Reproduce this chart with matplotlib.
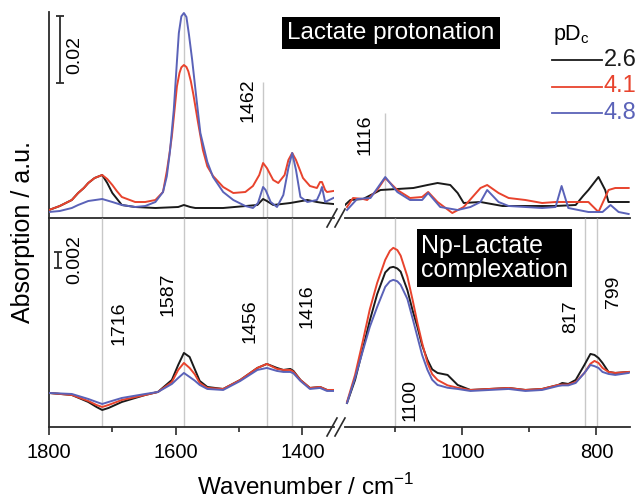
import numpy as np
import matplotlib.pyplot as plt
from matplotlib.lines import Line2D
from matplotlib.ticker import MultipleLocator

plt.rcParams['font.family'] = ['Liberation Sans', 'DejaVu Sans']

# absorbance values in milli-absorbance units (mA)
# ---- top panel: lactate protonation, 1800-1350 cm-1 ----
top_l_black_wn = [1800, 1783, 1764, 1754, 1745, 1738, 1728, 1716, 1708, 1700, 1685, 1664, 1632, 1596, 1587,
                  1577, 1569, 1525, 1471, 1462, 1456, 1446, 1419, 1392, 1377, 1367, 1351]
top_l_black = [2.4, 3.6, 5.4, 7.5, 9.0, 10.5, 12.0, 12.9, 10.5, 7.5, 3.9, 3.3, 3.0, 3.3, 3.9,
               3.3, 3.0, 3.0, 3.9, 5.7, 5.1, 3.9, 4.5, 5.4, 4.8, 4.5, 4.2]
top_l_red_wn = [1800, 1783, 1764, 1754, 1745, 1738, 1728, 1716, 1708, 1700, 1693, 1685, 1664, 1648, 1632, 1620,
                1614, 1610, 1606, 1602, 1598, 1594, 1591, 1587, 1583, 1580, 1576, 1572, 1565, 1557, 1550, 1541,
                1525, 1509, 1490, 1478, 1468, 1462, 1456, 1446, 1438, 1428, 1422, 1416, 1410, 1399, 1388, 1377,
                1372, 1369, 1364, 1361, 1351]
top_l_red = [2.4, 3.6, 5.4, 7.5, 9.0, 10.5, 12.0, 12.9, 11.7, 9.9, 8.1, 6.3, 4.8, 4.8, 5.4, 7.8,
             14.0, 19.0, 24.5, 32.0, 39.5, 43.5, 45.2, 45.9, 45.3, 44.0, 41.0, 37.0, 29.0, 20.4, 15.5, 12.6,
             9.3, 7.5, 7.8, 9.6, 12.9, 16.5, 15.0, 11.4, 10.5, 12.9, 17.4, 19.5, 17.4, 12.0, 9.6, 9.0,
             10.8, 10.8, 8.4, 7.8, 8.1]
top_l_blue_wn = [1800, 1783, 1764, 1754, 1738, 1716, 1700, 1685, 1664, 1648, 1632, 1620, 1614, 1609, 1603,
                 1598, 1595, 1591, 1587, 1583, 1579, 1574, 1567, 1561, 1550, 1541, 1525, 1509, 1490, 1478, 1470,
                 1466, 1462, 1458, 1450, 1440, 1430, 1422, 1416, 1410, 1403, 1392, 1377, 1372, 1369, 1366, 1364,
                 1351]
top_l_blue = [1.8, 2.1, 3.0, 3.9, 5.1, 5.7, 4.8, 3.9, 3.3, 3.6, 4.8, 7.8, 12.5, 20.0, 32.4,
              47.0, 55.5, 60.5, 61.5, 60.3, 55.0, 47.5, 35.5, 25.5, 16.8, 12.3, 7.8, 5.4, 3.6, 3.0, 4.5,
              6.9, 9.3, 8.4, 4.8, 3.3, 6.9, 15.0, 19.5, 14.4, 6.3, 4.8, 5.4, 7.5, 9.3, 6.6, 4.8,
              6.0]

# ---- top panel: 1175-750 cm-1 ----
top_r_black_wn = [1175, 1167, 1148, 1122, 1097, 1073, 1052, 1037, 1018, 1007, 998, 973, 940, 861, 831, 820,
                  812, 797, 787, 782, 752]
top_r_black = [3.9, 5.4, 5.7, 8.4, 8.7, 9.0, 9.9, 10.5, 9.9, 7.5, 4.5, 4.8, 3.6, 3.6, 3.9, 6.6,
               8.4, 12.3, 8.4, 4.8, 4.8]
top_r_red_wn = [1172, 1163, 1148, 1142, 1127, 1115, 1097, 1078, 1060, 1051, 1037, 1015, 998, 973, 963, 946,
                931, 906, 881, 861, 831, 812, 797, 782, 772, 752]
top_r_red = [3.3, 6.0, 5.7, 5.4, 8.4, 12.0, 8.4, 6.0, 6.3, 7.8, 4.8, 1.5, 3.3, 9.0, 9.9, 7.5,
             6.0, 5.4, 4.5, 4.8, 4.8, 4.8, 1.8, 8.4, 9.0, 9.0]
top_r_blue_wn = [1172, 1157, 1137, 1115, 1097, 1078, 1060, 1051, 1033, 1007, 988, 973, 963, 946, 931, 881,
                 861, 852, 842, 812, 791, 779, 767, 752]
top_r_blue = [2.4, 5.7, 6.0, 12.3, 7.8, 5.4, 5.4, 7.5, 3.3, 2.4, 3.3, 4.8, 8.4, 4.8, 3.6, 3.0,
              3.3, 9.6, 3.0, 1.8, 1.8, 3.9, 1.8, 1.2]

# ---- bottom panel: Np-lactate complexation, 1800-1350 cm-1 ----
bot_l_wn = [1800, 1764, 1738, 1725, 1716, 1706, 1685, 1648, 1628, 1606, 1596, 1587, 1578, 1570, 1562,
            1550, 1525, 1498, 1471, 1456, 1440, 1430, 1419, 1414, 1403, 1388, 1372, 1361, 1351]
bot_l_black = [4.25, 4.0, 3.125, 2.5, 2.125, 2.375, 3.125, 4.0, 4.375, 5.875, 7.75, 9.25, 8.75, 7.25, 5.75,
               5.0, 4.75, 5.875, 7.375, 7.875, 7.375, 7.125, 7.25, 7.0, 5.875, 4.875, 5.0, 4.625, 4.625]
bot_l_red = [4.25, 4.0, 3.25, 2.75, 2.5, 2.75, 3.375, 4.0, 4.375, 5.625, 7.125, 8.0, 7.375, 6.6, 5.5,
             4.875, 4.75, 5.875, 7.375, 7.875, 7.25, 7.125, 7.125, 6.9, 5.875, 4.875, 5.0, 4.625, 4.625]
bot_l_blue = [4.25, 4.125, 3.5, 3.125, 2.875, 3.125, 3.625, 4.125, 4.375, 5.375, 6.125, 6.75, 6.25, 5.8, 5.25,
              4.75, 4.625, 5.75, 7.125, 7.375, 7.0, 6.875, 6.875, 6.7, 5.75, 4.75, 4.875, 4.5, 4.5]

# ---- bottom panel: 1175-750 cm-1 ----
bot_r_wn = [1172, 1160, 1148, 1138, 1127, 1115, 1108, 1103, 1097, 1092, 1082, 1074, 1067, 1060, 1052, 1045,
            1037, 1022, 1007, 988, 931, 906, 881, 857, 851, 842, 831, 818, 809, 803, 797, 791, 782, 772, 752]
bot_r_black = [3.0, 5.875, 9.875, 13.3, 16.6, 19.3, 19.9, 20.0, 19.8, 19.4, 17.1, 14.5, 12.5, 10.2, 8.375,
               7.2, 6.75, 6.5, 5.25, 4.625, 4.875, 4.625, 4.75, 5.25, 5.5, 5.375, 5.875, 7.75, 9.125, 9.0,
               8.625, 8.0, 6.875, 6.75, 6.875]
bot_r_red = [3.125, 6.5, 10.875, 14.7, 18.0, 20.875, 22.0, 22.375, 22.1, 21.4, 18.8, 15.8, 13.0, 10.5, 8.0,
             6.6, 5.875, 5.2, 4.9, 4.625, 4.875, 4.625, 4.75, 5.25, 5.3, 5.3, 5.625, 6.75, 7.9, 8.25, 8.0,
             7.375, 6.875, 6.75, 6.875]
bot_r_blue = [3.0, 6.125, 9.625, 12.5, 15.0, 17.5, 18.2, 18.375, 18.2, 17.75, 16.0, 13.5, 11.25, 9.0, 7.125,
              5.9, 5.25, 4.9, 4.75, 4.5, 4.75, 4.5, 4.625, 5.125, 5.2, 5.2, 5.5, 6.75, 7.75, 7.6, 7.375,
              6.875, 6.625, 6.5, 6.75]

peaks_top_marks = [1716, 1587, 1456, 1416]
peaks_bottom = [1716, 1587, 1456, 1416, 1100, 817, 799]
pdc_labels = ['2.6', '4.1', '4.8']
colors = ['#1a1a1a', '#e8432d', '#5a62b8']

mA = lambda v: np.asarray(v) / 1000.0

W, H = 642, 501
fig = plt.figure(figsize=(W / 100, H / 100), dpi=100)


def px_box(x0, y0, x1, y1):
    return [x0 / W, 1 - y1 / H, (x1 - x0) / W, (y1 - y0) / H]


ax_tl = fig.add_axes(px_box(49, 12, 334, 218))
ax_tr = fig.add_axes(px_box(345, 12, 630, 218))
ax_bl = fig.add_axes(px_box(49, 218, 334, 427))
ax_br = fig.add_axes(px_box(345, 218, 630, 427))

for ax in (ax_tl, ax_bl):
    ax.set_xlim(1800, 1350)
for ax in (ax_tr, ax_br):
    ax.set_xlim(1175, 750)
for ax in (ax_tl, ax_tr):
    ax.set_ylim(0, 0.0618)
for ax in (ax_bl, ax_br):
    ax.set_ylim(0, 0.0261)

spine_c = '#2b2b2b'
for ax in (ax_tl, ax_tr, ax_bl, ax_br):
    ax.patch.set_visible(False)
    for s in ('top', 'right'):
        ax.spines[s].set_visible(False)
    ax.spines['bottom'].set_color(spine_c)
    ax.spines['bottom'].set_linewidth(1.3)
    ax.spines['left'].set_color(spine_c)
    ax.spines['left'].set_linewidth(1.3)
    ax.set_yticks([])
for ax in (ax_tr, ax_br):
    ax.spines['left'].set_visible(False)
for ax in (ax_tl, ax_tr):
    ax.set_xticks([])

for ax in (ax_bl, ax_br):
    ax.xaxis.set_major_locator(MultipleLocator(200))
    ax.xaxis.set_minor_locator(MultipleLocator(100))
    ax.tick_params(axis='x', which='major', direction='out', length=5.5, width=1.2, color=spine_c,
                   labelsize=14.5, pad=6)
    ax.tick_params(axis='x', which='minor', direction='out', length=3.5, width=1.2, color=spine_c)
ax_bl.set_xticks([1800, 1600, 1400])
ax_br.set_xticks([1000, 800])

gray = '#c8c8c8'
lw = 1.4

# spectra
top_sets = [(ax_tl, [(top_l_black_wn, top_l_black), (top_l_red_wn, top_l_red), (top_l_blue_wn, top_l_blue)]),
            (ax_tr, [(top_r_black_wn, top_r_black), (top_r_red_wn, top_r_red), (top_r_blue_wn, top_r_blue)])]
bot_sets = [(ax_bl, [(bot_l_wn, bot_l_black), (bot_l_wn, bot_l_red), (bot_l_wn, bot_l_blue)]),
            (ax_br, [(bot_r_wn, bot_r_black), (bot_r_wn, bot_r_red), (bot_r_wn, bot_r_blue)])]
for ax, curves in top_sets + bot_sets:
    for (x, y), c in zip(curves, colors):
        ax.plot(x, mA(y), color=c, lw=lw, solid_joinstyle='round', zorder=3)


def curve_top(curves, w):
    return max(np.interp(w, np.asarray(x)[::-1], mA(y)[::-1]) for x, y in curves)


# marker lines in top panel (up to the curves) and label lines
tl_curves = top_sets[0][1]
for w in peaks_top_marks:
    ax_tl.vlines(w, 0, curve_top(tl_curves, w), color=gray, lw=1, zorder=1)
ax_tl.vlines(1462, 0, 0.0408, color=gray, lw=1, zorder=1)
ax_tr.vlines(1116, 0, 0.0315, color=gray, lw=1, zorder=1)

for w in peaks_bottom:
    ax = ax_bl if w > 1300 else ax_br
    ax.vlines(w, 0, 0.0261, color=gray, lw=1, zorder=1)

lab_kw = dict(rotation=90, ha='center', va='center', fontsize=14,
              bbox=dict(facecolor='white', edgecolor='none', pad=1.0), zorder=2)
ax_tl.text(1486, 0.0354, '1462', **lab_kw)
ax_tr.text(1145, 0.0249, '1116', **lab_kw)
ax_bl.text(1689, 0.0130, '1716', **lab_kw)
ax_bl.text(1612, 0.0166, '1587', **lab_kw)
ax_bl.text(1482, 0.01325, '1456', **lab_kw)
ax_bl.text(1392, 0.0151, '1416', **lab_kw)
ax_br.text(1078, 0.0034, '1100', **lab_kw)
ax_br.text(839, 0.01375, '817', **lab_kw)
ax_br.text(775, 0.0169, '799', **lab_kw)

# scale bars
ax_tl.errorbar(1783, 0.0505, yerr=0.010, color=spine_c, capsize=3, elinewidth=1.3, capthick=1.3,
               clip_on=False)
ax_tl.text(1760, 0.0489, '0.02', rotation=90, ha='center', va='center', fontsize=14)
ax_bl.errorbar(1786, 0.0209, yerr=0.001, color=spine_c, capsize=3, elinewidth=1.3, capthick=1.3,
               clip_on=False)
ax_bl.text(1759, 0.0209, '0.002', rotation=90, ha='center', va='center', fontsize=14)

# boxed titles
fig.text(391 / W, 1 - 33 / H, 'Lactate protonation', color='white', fontsize=17.5, ha='center', va='center',
         bbox=dict(facecolor='black', edgecolor='none', pad=3.5))
fig.text(421 / W, 1 - 258 / H, 'Np-Lactate\ncomplexation', color='white', fontsize=18, ha='left',
         va='center', linespacing=1.05, bbox=dict(facecolor='black', edgecolor='none', pad=3))

# legend
fig.text(553 / W, 1 - 35 / H, 'pD$_\\mathregular{c}$', fontsize=15.5, ha='left', va='center')
for i, (lab, c) in enumerate(zip(pdc_labels, colors)):
    yy = 1 - (60 + 26.5 * i) / H
    fig.add_artist(Line2D([552 / W, 602 / W], [yy, yy], color=c, lw=1.3))
    fig.text(604 / W, yy, lab, color=c, fontsize=17, ha='left', va='center')

# axis break marks
for yb in (218, 427):
    for dx in (0, 8):
        fig.add_artist(Line2D([(327 + dx) / W, (337 + dx) / W], [1 - (yb + 9) / H, 1 - (yb - 9) / H],
                              color=spine_c, lw=1.2))

fig.text(306 / W, 1 - 487 / H, 'Wavenumber / cm$^{\\mathregular{-1}}$', fontsize=17.5, ha='center',
         va='center')
fig.text(23 / W, 1 - 232 / H, 'Absorption / a.u.', fontsize=18, rotation=90, ha='center', va='center')

fig.savefig('out.png', dpi=100)
